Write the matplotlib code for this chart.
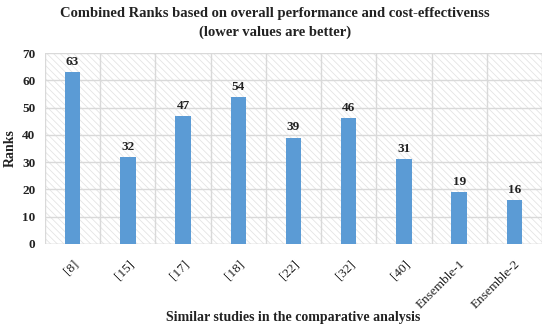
import matplotlib
matplotlib.use("Agg")
import matplotlib.pyplot as plt
from matplotlib.patches import Rectangle

categories = ["[8]", "[15]", "[17]", "[18]", "[22]", "[32]", "[40]", "Ensemble-1", "Ensemble-2"]
ranks = [63, 32, 47, 54, 39, 46, 31, 19, 16]

plt.rcParams['font.family'] = ['Liberation Serif', 'DejaVu Serif']
plt.rcParams['hatch.linewidth'] = 0.6
plt.rcParams['hatch.color'] = '#e4e4e4'

fig = plt.figure(figsize=(5.5, 3.31), dpi=100)
ax = fig.add_axes([45/550, 1-244/331, (542-45)/550, (244-53)/331])

ax.add_patch(Rectangle((0, 0), 1, 1, transform=ax.transAxes, facecolor='white',
                       edgecolor='#e4e4e4', hatch='\\\\\\\\\\', linewidth=0, zorder=0))

x = list(range(len(categories)))
ax.bar(x, ranks, width=0.28, color='#5B9BD5', zorder=3)
for xi, v in zip(x, ranks):
    ax.text(xi, v + 1.5, str(v), ha='center', va='bottom', fontsize=9.5, fontweight='bold', color='#222222', zorder=4)

ax.set_xlim(-0.5, len(categories) - 0.5)
ax.set_ylim(0, 70)
ax.set_yticks(range(0, 71, 10))
ax.set_xticks(x)
ax.set_xticklabels(categories, rotation=45, ha='right', rotation_mode='anchor', fontsize=9.5, color='#222222')
ax.tick_params(axis='y', labelsize=9.5, length=0, colors='#222222', pad=7)
ax.tick_params(axis='x', length=0, pad=10)
for lab in ax.get_yticklabels():
    lab.set_fontweight('bold')

# grid
ax.grid(axis='y', color='#d9d9d9', linewidth=1, zorder=1)
ax.set_xticks([i + 0.5 for i in range(-1, len(categories))], minor=True)
ax.grid(axis='x', which='minor', color='#d9d9d9', linewidth=1, zorder=1)
ax.grid(axis='x', which='major', visible=False)
ax.tick_params(axis='x', which='minor', length=0)
for s in ax.spines.values():
    s.set_visible(False)
ax.axhline(0, color='#d9d9d9', linewidth=1, zorder=2)

ax.set_ylabel('Ranks', fontsize=10, fontweight='bold', color='#222222', labelpad=4)

fig.text(293/550, 1 - 318/331, 'Similar studies in the comparative analysis', ha='center', va='center',
         fontsize=10, fontweight='bold', color='#222222')

fig.text(0.5, 1 - 13/331, 'Combined Ranks based on overall performance and cost-effectivenss',
         ha='center', va='center', fontsize=10.5, fontweight='bold', color='#222222')
fig.text(0.5, 1 - 32/331, '(lower values are better)',
         ha='center', va='center', fontsize=10.5, fontweight='bold', color='#222222')

fig.savefig('out.png', dpi=100)
